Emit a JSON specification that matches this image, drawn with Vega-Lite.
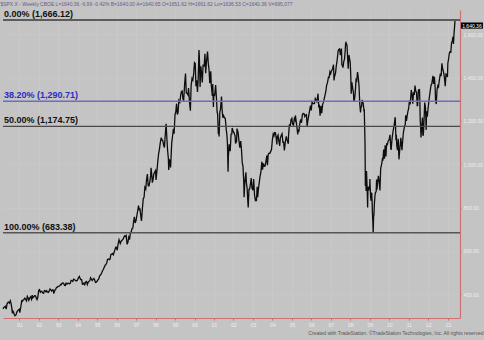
{
  "$schema": "https://vega.github.io/schema/vega-lite/v6.json",
  "autosize": "none",
  "width": 457,
  "height": 308,
  "padding": {"left": 3, "top": 10, "right": 24, "bottom": 22},
  "background": "#c4c4c4",
  "config": {
    "view": {"stroke": null, "fill": "#c4c4c4"},
    "font": "Liberation Sans"
  },
  "title": {
    "text": "$SPX.X - Weekly  CBOE   L=1640.36  -6.99  -0.42%   B=1640.00  A=1640.65   O=1651.62   H=1661.62   Lo=1636.53   C=1640.36   V=995,077",
    "anchor": "start",
    "fontSize": 5,
    "fontWeight": "normal",
    "color": "#6a5a8a",
    "offset": 3
  },
  "resolve": {"scale": {"color": "independent"}},
  "datasets": {
    "px": [
      {"d":"1990-03-01","v":332},{"d":"1990-03-15","v":338},{"d":"1990-03-30","v":339.9},{"d":"1990-04-13","v":344},{"d":"1990-04-30","v":330.8},{"d":"1990-05-15","v":354},{"d":"1990-05-31","v":361.2},{"d":"1990-06-15","v":362.9},{"d":"1990-06-29","v":358},{"d":"1990-07-16","v":368.9},{"d":"1990-07-31","v":356.2},{"d":"1990-08-15","v":332},{"d":"1990-08-24","v":311.5},{"d":"1990-08-31","v":322.6},{"d":"1990-09-14","v":316.8},{"d":"1990-09-28","v":306.1},{"d":"1990-10-12","v":300},{"d":"1990-10-31","v":304},{"d":"1990-11-15","v":317},{"d":"1990-11-30","v":322.2},{"d":"1990-12-14","v":326.8},{"d":"1990-12-31","v":330.2},
      {"d":"1991-01-11","v":315},{"d":"1991-01-31","v":343.9},{"d":"1991-02-15","v":369},{"d":"1991-02-28","v":367.1},{"d":"1991-03-15","v":373.6},{"d":"1991-03-28","v":375.2},{"d":"1991-04-15","v":381},{"d":"1991-04-30","v":375.3},{"d":"1991-05-15","v":368.6},{"d":"1991-05-31","v":389.8},{"d":"1991-06-14","v":382.3},{"d":"1991-06-28","v":371.2},{"d":"1991-07-15","v":382},{"d":"1991-07-31","v":387.8},{"d":"1991-08-19","v":376.5},{"d":"1991-08-30","v":395.4},{"d":"1991-09-13","v":383.6},{"d":"1991-09-30","v":387.9},{"d":"1991-10-15","v":392.8},{"d":"1991-10-31","v":392.5},{"d":"1991-11-15","v":382.6},{"d":"1991-11-29","v":375.2},{"d":"1991-12-13","v":384.5},{"d":"1991-12-31","v":417.1},
      {"d":"1992-01-15","v":420.8},{"d":"1992-01-31","v":408.8},{"d":"1992-02-14","v":412.5},{"d":"1992-02-28","v":412.7},{"d":"1992-03-13","v":405.8},{"d":"1992-03-31","v":403.7},{"d":"1992-04-15","v":416.3},{"d":"1992-04-30","v":414.9},{"d":"1992-05-15","v":410},{"d":"1992-05-29","v":415.4},{"d":"1992-06-12","v":409.8},{"d":"1992-06-30","v":408.1},{"d":"1992-07-15","v":415},{"d":"1992-07-31","v":424.2},{"d":"1992-08-14","v":419.9},{"d":"1992-08-31","v":414},{"d":"1992-09-15","v":419.8},{"d":"1992-09-30","v":417.8},{"d":"1992-10-09","v":402.7},{"d":"1992-10-30","v":418.7},{"d":"1992-11-13","v":422.4},{"d":"1992-11-30","v":431.4},{"d":"1992-12-15","v":432.6},{"d":"1992-12-31","v":435.7},
      {"d":"1993-01-15","v":437.2},{"d":"1993-01-29","v":438.8},{"d":"1993-02-12","v":444.6},{"d":"1993-02-26","v":443.4},{"d":"1993-03-15","v":451},{"d":"1993-03-31","v":451.7},{"d":"1993-04-15","v":448.4},{"d":"1993-04-30","v":440.2},{"d":"1993-05-14","v":439.6},{"d":"1993-05-28","v":450.2},{"d":"1993-06-15","v":446.3},{"d":"1993-06-30","v":450.5},{"d":"1993-07-15","v":449.2},{"d":"1993-07-30","v":448.1},{"d":"1993-08-13","v":450.1},{"d":"1993-08-31","v":463.6},{"d":"1993-09-15","v":461.6},{"d":"1993-09-30","v":458.9},{"d":"1993-10-15","v":469.5},{"d":"1993-10-29","v":467.8},{"d":"1993-11-15","v":463.8},{"d":"1993-11-30","v":461.8},{"d":"1993-12-15","v":461.8},{"d":"1993-12-31","v":466.5},
      {"d":"1994-01-14","v":474.9},{"d":"1994-01-31","v":481.6},{"d":"1994-02-15","v":472.5},{"d":"1994-02-28","v":467.1},{"d":"1994-03-15","v":467},{"d":"1994-03-31","v":445.8},{"d":"1994-04-15","v":446.2},{"d":"1994-04-29","v":450.9},{"d":"1994-05-13","v":444.1},{"d":"1994-05-31","v":456.5},{"d":"1994-06-15","v":458.6},{"d":"1994-06-30","v":444.3},{"d":"1994-07-15","v":454.2},{"d":"1994-07-29","v":458.3},{"d":"1994-08-15","v":461.9},{"d":"1994-08-31","v":475.5},{"d":"1994-09-15","v":468.8},{"d":"1994-09-30","v":462.7},{"d":"1994-10-14","v":469.1},{"d":"1994-10-31","v":472.4},{"d":"1994-11-15","v":465},{"d":"1994-11-30","v":453.7},{"d":"1994-12-15","v":455.3},{"d":"1994-12-30","v":459.3},
      {"d":"1995-01-13","v":466},{"d":"1995-01-31","v":470.4},{"d":"1995-02-15","v":484.5},{"d":"1995-02-28","v":487.4},{"d":"1995-03-15","v":491.9},{"d":"1995-03-31","v":500.7},{"d":"1995-04-13","v":509.2},{"d":"1995-04-28","v":514.7},{"d":"1995-05-15","v":525.6},{"d":"1995-05-31","v":533.4},{"d":"1995-06-15","v":537.1},{"d":"1995-06-30","v":544.8},{"d":"1995-07-14","v":560.3},{"d":"1995-07-31","v":562.1},{"d":"1995-08-15","v":559.4},{"d":"1995-08-31","v":561.9},{"d":"1995-09-15","v":583.4},{"d":"1995-09-29","v":584.4},{"d":"1995-10-13","v":587.5},{"d":"1995-10-31","v":581.5},{"d":"1995-11-15","v":593.2},{"d":"1995-11-30","v":605.4},{"d":"1995-12-15","v":616.3},{"d":"1995-12-29","v":615.9},
      {"d":"1996-01-12","v":602.7},{"d":"1996-01-31","v":636},{"d":"1996-02-15","v":651.3},{"d":"1996-02-29","v":640.4},{"d":"1996-03-08","v":633.5},{"d":"1996-03-29","v":645.5},{"d":"1996-04-15","v":650},{"d":"1996-04-30","v":654.2},{"d":"1996-05-15","v":662},{"d":"1996-05-31","v":669.1},{"d":"1996-06-14","v":665.9},{"d":"1996-06-28","v":670.6},{"d":"1996-07-15","v":629.8},{"d":"1996-07-31","v":639.9},{"d":"1996-08-15","v":662.3},{"d":"1996-08-30","v":652},{"d":"1996-09-13","v":680.5},{"d":"1996-09-30","v":687.3},{"d":"1996-10-15","v":702},{"d":"1996-10-31","v":705.3},{"d":"1996-11-15","v":737.6},{"d":"1996-11-29","v":757},{"d":"1996-12-13","v":728.6},{"d":"1996-12-31","v":740.7},
      {"d":"1997-01-15","v":765},{"d":"1997-01-31","v":786.2},{"d":"1997-02-14","v":808.5},{"d":"1997-02-28","v":791},{"d":"1997-03-14","v":793.2},{"d":"1997-03-31","v":757.1},{"d":"1997-04-11","v":737.7},{"d":"1997-04-30","v":801.3},{"d":"1997-05-15","v":841.9},{"d":"1997-05-30","v":848.3},{"d":"1997-06-13","v":893.3},{"d":"1997-06-30","v":885.1},{"d":"1997-07-15","v":928},{"d":"1997-07-31","v":954.3},{"d":"1997-08-15","v":900.8},{"d":"1997-08-29","v":899.5},{"d":"1997-09-15","v":919.8},{"d":"1997-09-30","v":947.3},{"d":"1997-10-07","v":983.1},{"d":"1997-10-24","v":941.6},{"d":"1997-10-31","v":914.6},{"d":"1997-11-14","v":928.4},{"d":"1997-11-28","v":955.4},{"d":"1997-12-15","v":963.4},{"d":"1997-12-31","v":970.4},
      {"d":"1998-01-09","v":927.7},{"d":"1998-01-30","v":980.3},{"d":"1998-02-13","v":1020.1},{"d":"1998-02-27","v":1049.3},{"d":"1998-03-13","v":1068.6},{"d":"1998-03-31","v":1101.8},{"d":"1998-04-17","v":1122.7},{"d":"1998-04-30","v":1111.8},{"d":"1998-05-15","v":1108.7},{"d":"1998-05-29","v":1090.8},{"d":"1998-06-15","v":1077},{"d":"1998-06-30","v":1133.8},{"d":"1998-07-17","v":1186.8},{"d":"1998-07-31","v":1120.7},{"d":"1998-08-14","v":1062.8},{"d":"1998-08-28","v":1027.1},{"d":"1998-09-04","v":973.9},{"d":"1998-09-18","v":1020},{"d":"1998-09-30","v":1017},{"d":"1998-10-09","v":984.6},{"d":"1998-10-30","v":1098.7},{"d":"1998-11-13","v":1125.7},{"d":"1998-11-30","v":1163.6},{"d":"1998-12-14","v":1141.2},{"d":"1998-12-31","v":1229.2},
      {"d":"1999-01-15","v":1243.3},{"d":"1999-01-29","v":1279.6},{"d":"1999-02-12","v":1230.1},{"d":"1999-02-26","v":1238.3},{"d":"1999-03-12","v":1294.6},{"d":"1999-03-31","v":1286.4},{"d":"1999-04-16","v":1319},{"d":"1999-04-30","v":1335.2},{"d":"1999-05-14","v":1337.8},{"d":"1999-05-28","v":1301.8},{"d":"1999-06-11","v":1293.6},{"d":"1999-06-30","v":1372.7},{"d":"1999-07-16","v":1418.8},{"d":"1999-07-30","v":1328.7},{"d":"1999-08-13","v":1327.7},{"d":"1999-08-31","v":1320.4},{"d":"1999-09-10","v":1351.7},{"d":"1999-09-30","v":1282.7},{"d":"1999-10-15","v":1247.4},{"d":"1999-10-29","v":1362.9},{"d":"1999-11-15","v":1396},{"d":"1999-11-30","v":1388.9},{"d":"1999-12-17","v":1421},{"d":"1999-12-31","v":1469.3},
      {"d":"2000-01-14","v":1465.2},{"d":"2000-01-28","v":1360.2},{"d":"2000-02-11","v":1387.1},{"d":"2000-02-25","v":1333.4},{"d":"2000-03-10","v":1395.1},{"d":"2000-03-24","v":1527.5},{"d":"2000-03-31","v":1498.6},{"d":"2000-04-14","v":1356.6},{"d":"2000-04-28","v":1452.4},{"d":"2000-05-12","v":1420.9},{"d":"2000-05-26","v":1378},{"d":"2000-06-09","v":1456.9},{"d":"2000-06-30","v":1454.6},{"d":"2000-07-14","v":1510},{"d":"2000-07-28","v":1419.9},{"d":"2000-08-11","v":1471.8},{"d":"2000-09-01","v":1520.8},{"d":"2000-09-15","v":1465.8},{"d":"2000-09-29","v":1436.5},{"d":"2000-10-13","v":1374.2},{"d":"2000-10-31","v":1429.4},{"d":"2000-11-10","v":1366},{"d":"2000-11-30","v":1315.2},{"d":"2000-12-08","v":1369.9},{"d":"2000-12-20","v":1264.7},{"d":"2000-12-29","v":1320.3},
      {"d":"2001-01-12","v":1318.3},{"d":"2001-01-31","v":1366},{"d":"2001-02-16","v":1301.5},{"d":"2001-02-28","v":1239.9},{"d":"2001-03-09","v":1233.4},{"d":"2001-03-23","v":1139.8},{"d":"2001-03-30","v":1160.3},{"d":"2001-04-06","v":1128.4},{"d":"2001-04-20","v":1243},{"d":"2001-04-30","v":1249.5},{"d":"2001-05-21","v":1312.8},{"d":"2001-05-31","v":1255.8},{"d":"2001-06-15","v":1214.4},{"d":"2001-06-29","v":1224.4},{"d":"2001-07-13","v":1215.7},{"d":"2001-07-31","v":1211.2},{"d":"2001-08-17","v":1162},{"d":"2001-08-31","v":1133.6},{"d":"2001-09-10","v":1092.5},{"d":"2001-09-21","v":965.8},{"d":"2001-09-28","v":1040.9},{"d":"2001-10-12","v":1091.7},{"d":"2001-10-31","v":1059.8},{"d":"2001-11-16","v":1138.7},{"d":"2001-11-30","v":1139.5},{"d":"2001-12-07","v":1167.1},{"d":"2001-12-31","v":1148.1},
      {"d":"2002-01-11","v":1145.6},{"d":"2002-01-31","v":1130.2},{"d":"2002-02-08","v":1096.2},{"d":"2002-02-28","v":1106.7},{"d":"2002-03-08","v":1164.3},{"d":"2002-03-28","v":1147.4},{"d":"2002-04-12","v":1111},{"d":"2002-04-30","v":1076.9},{"d":"2002-05-17","v":1106.6},{"d":"2002-05-31","v":1067.1},{"d":"2002-06-14","v":1007.3},{"d":"2002-06-28","v":989.8},{"d":"2002-07-12","v":921.4},{"d":"2002-07-19","v":847.8},{"d":"2002-07-31","v":911.6},{"d":"2002-08-22","v":962.7},{"d":"2002-08-30","v":916.1},{"d":"2002-09-13","v":889.8},{"d":"2002-09-27","v":827.4},{"d":"2002-10-04","v":800.6},{"d":"2002-10-18","v":884.4},{"d":"2002-10-31","v":885.8},{"d":"2002-11-15","v":909.8},{"d":"2002-11-29","v":936.3},{"d":"2002-12-13","v":889.5},{"d":"2002-12-31","v":879.8},
      {"d":"2003-01-14","v":931.7},{"d":"2003-01-31","v":855.7},{"d":"2003-02-14","v":834.9},{"d":"2003-02-28","v":841.2},{"d":"2003-03-07","v":828.9},{"d":"2003-03-21","v":895.8},{"d":"2003-03-31","v":848.2},{"d":"2003-04-17","v":893.6},{"d":"2003-04-30","v":916.9},{"d":"2003-05-16","v":946.7},{"d":"2003-05-30","v":963.6},{"d":"2003-06-17","v":1011.7},{"d":"2003-06-30","v":974.5},{"d":"2003-07-14","v":1003.9},{"d":"2003-07-31","v":990.3},{"d":"2003-08-15","v":990.7},{"d":"2003-08-29","v":1008},{"d":"2003-09-18","v":1039.6},{"d":"2003-09-30","v":996},{"d":"2003-10-15","v":1046},{"d":"2003-10-31","v":1050.7},{"d":"2003-11-14","v":1050.4},{"d":"2003-11-28","v":1058.2},{"d":"2003-12-15","v":1068},{"d":"2003-12-31","v":1111.9},
      {"d":"2004-01-16","v":1139.8},{"d":"2004-01-30","v":1131.1},{"d":"2004-02-13","v":1145.8},{"d":"2004-02-27","v":1144.9},{"d":"2004-03-12","v":1120.6},{"d":"2004-03-24","v":1091.3},{"d":"2004-03-31","v":1126.2},{"d":"2004-04-16","v":1134.6},{"d":"2004-04-30","v":1107.3},{"d":"2004-05-17","v":1084.1},{"d":"2004-05-28","v":1120.7},{"d":"2004-06-18","v":1135},{"d":"2004-06-30","v":1140.8},{"d":"2004-07-16","v":1101.4},{"d":"2004-07-30","v":1101.7},{"d":"2004-08-12","v":1063.2},{"d":"2004-08-31","v":1104.2},{"d":"2004-09-17","v":1128.6},{"d":"2004-09-30","v":1114.6},{"d":"2004-10-25","v":1094.8},{"d":"2004-10-29","v":1130.2},{"d":"2004-11-15","v":1183.8},{"d":"2004-11-30","v":1173.8},{"d":"2004-12-15","v":1205.7},{"d":"2004-12-31","v":1211.9},
      {"d":"2005-01-14","v":1184.5},{"d":"2005-01-31","v":1181.3},{"d":"2005-02-15","v":1210.1},{"d":"2005-02-28","v":1203.6},{"d":"2005-03-07","v":1225.3},{"d":"2005-03-31","v":1180.6},{"d":"2005-04-20","v":1137.5},{"d":"2005-04-29","v":1156.9},{"d":"2005-05-13","v":1154},{"d":"2005-05-31","v":1191.5},{"d":"2005-06-15","v":1206.6},{"d":"2005-06-30","v":1191.3},{"d":"2005-07-15","v":1227.9},{"d":"2005-07-29","v":1234.2},{"d":"2005-08-15","v":1233.9},{"d":"2005-08-31","v":1220.3},{"d":"2005-09-15","v":1227.7},{"d":"2005-09-30","v":1228.8},{"d":"2005-10-13","v":1176.8},{"d":"2005-10-31","v":1207},{"d":"2005-11-15","v":1229},{"d":"2005-11-30","v":1249.5},{"d":"2005-12-15","v":1270.9},{"d":"2005-12-30","v":1248.3},
      {"d":"2006-01-13","v":1287.6},{"d":"2006-01-31","v":1280.1},{"d":"2006-02-15","v":1280},{"d":"2006-02-28","v":1280.7},{"d":"2006-03-15","v":1303},{"d":"2006-03-31","v":1294.9},{"d":"2006-04-14","v":1289},{"d":"2006-04-28","v":1310.6},{"d":"2006-05-05","v":1325.8},{"d":"2006-05-19","v":1267},{"d":"2006-05-31","v":1270.1},{"d":"2006-06-13","v":1223.7},{"d":"2006-06-30","v":1270.2},{"d":"2006-07-14","v":1236.2},{"d":"2006-07-31","v":1276.7},{"d":"2006-08-15","v":1285.6},{"d":"2006-08-31","v":1303.8},{"d":"2006-09-15","v":1319.9},{"d":"2006-09-29","v":1335.9},{"d":"2006-10-13","v":1362.8},{"d":"2006-10-31","v":1377.9},{"d":"2006-11-17","v":1401.2},{"d":"2006-11-30","v":1400.6},{"d":"2006-12-15","v":1427.1},{"d":"2006-12-29","v":1418.3},
      {"d":"2007-01-12","v":1430.7},{"d":"2007-01-31","v":1438.2},{"d":"2007-02-20","v":1459.7},{"d":"2007-03-02","v":1387.2},{"d":"2007-03-09","v":1402.8},{"d":"2007-03-30","v":1420.9},{"d":"2007-04-13","v":1452.9},{"d":"2007-04-30","v":1482.4},{"d":"2007-05-18","v":1522.8},{"d":"2007-05-31","v":1530.6},{"d":"2007-06-15","v":1532.9},{"d":"2007-06-29","v":1503.4},{"d":"2007-07-20","v":1534.1},{"d":"2007-07-27","v":1458.95},{"d":"2007-08-10","v":1453.6},{"d":"2007-08-17","v":1445.9},{"d":"2007-08-31","v":1474},{"d":"2007-09-14","v":1484.3},{"d":"2007-09-28","v":1526.8},{"d":"2007-10-05","v":1557.6},{"d":"2007-10-12","v":1561.8},{"d":"2007-10-31","v":1549.4},{"d":"2007-11-23","v":1440.7},{"d":"2007-11-30","v":1481.1},{"d":"2007-12-07","v":1504.7},{"d":"2007-12-31","v":1468.4},
      {"d":"2008-01-11","v":1401},{"d":"2008-01-18","v":1325.2},{"d":"2008-01-31","v":1378.6},{"d":"2008-02-15","v":1350},{"d":"2008-02-29","v":1330.6},{"d":"2008-03-07","v":1293.4},{"d":"2008-03-14","v":1288.1},{"d":"2008-03-31","v":1322.7},{"d":"2008-04-18","v":1390.3},{"d":"2008-04-30","v":1385.6},{"d":"2008-05-16","v":1425.4},{"d":"2008-05-30","v":1400.4},{"d":"2008-06-13","v":1360},{"d":"2008-06-27","v":1278.4},{"d":"2008-07-11","v":1239.5},{"d":"2008-07-18","v":1260.7},{"d":"2008-07-31","v":1267.4},{"d":"2008-08-08","v":1296.3},{"d":"2008-08-29","v":1282.8},{"d":"2008-09-12","v":1251.7},{"d":"2008-09-19","v":1255.1},{"d":"2008-10-03","v":1099.2},{"d":"2008-10-10","v":899.2},{"d":"2008-10-17","v":940.6},{"d":"2008-10-24","v":876.8},{"d":"2008-10-31","v":968.8},{"d":"2008-11-14","v":873.3},{"d":"2008-11-21","v":800},{"d":"2008-11-28","v":896.2},{"d":"2008-12-12","v":879.7},{"d":"2008-12-31","v":903.3},
      {"d":"2009-01-02","v":931.8},{"d":"2009-01-16","v":850.1},{"d":"2009-01-23","v":832},{"d":"2009-02-06","v":868.6},{"d":"2009-02-13","v":826.8},{"d":"2009-02-20","v":770},{"d":"2009-02-27","v":735.1},{"d":"2009-03-06","v":683.38},{"d":"2009-03-13","v":756.6},{"d":"2009-03-20","v":768.5},{"d":"2009-03-27","v":815.9},{"d":"2009-04-09","v":856.6},{"d":"2009-04-17","v":869.6},{"d":"2009-04-30","v":872.8},{"d":"2009-05-08","v":929.2},{"d":"2009-05-15","v":882.9},{"d":"2009-05-29","v":919.1},{"d":"2009-06-12","v":946.2},{"d":"2009-06-26","v":918.9},{"d":"2009-07-10","v":879.1},{"d":"2009-07-24","v":979.3},{"d":"2009-07-31","v":987.5},{"d":"2009-08-14","v":1004.1},{"d":"2009-08-28","v":1028.9},{"d":"2009-09-04","v":1016.4},{"d":"2009-09-18","v":1068.3},{"d":"2009-10-02","v":1025.2},{"d":"2009-10-16","v":1087.7},{"d":"2009-10-30","v":1036.2},{"d":"2009-11-13","v":1093.5},{"d":"2009-11-27","v":1091.5},{"d":"2009-12-11","v":1106.4},{"d":"2009-12-31","v":1115.1},
      {"d":"2010-01-15","v":1136},{"d":"2010-01-29","v":1073.9},{"d":"2010-02-05","v":1066.2},{"d":"2010-02-19","v":1109.2},{"d":"2010-03-05","v":1138.7},{"d":"2010-03-19","v":1159.9},{"d":"2010-04-01","v":1178.1},{"d":"2010-04-23","v":1217.3},{"d":"2010-05-07","v":1110.9},{"d":"2010-05-14","v":1135.7},{"d":"2010-05-21","v":1087.7},{"d":"2010-06-04","v":1064.9},{"d":"2010-06-18","v":1117.5},{"d":"2010-07-02","v":1022.6},{"d":"2010-07-16","v":1064.9},{"d":"2010-07-30","v":1101.6},{"d":"2010-08-06","v":1121.6},{"d":"2010-08-27","v":1064.6},{"d":"2010-09-10","v":1109.6},{"d":"2010-09-24","v":1148.7},{"d":"2010-10-15","v":1176.2},{"d":"2010-10-29","v":1183.3},{"d":"2010-11-05","v":1225.9},{"d":"2010-11-19","v":1199.7},{"d":"2010-12-03","v":1224.7},{"d":"2010-12-17","v":1243.9},{"d":"2010-12-31","v":1257.6},
      {"d":"2011-01-14","v":1293.2},{"d":"2011-01-28","v":1276.3},{"d":"2011-02-18","v":1343},{"d":"2011-03-04","v":1321.2},{"d":"2011-03-18","v":1279.2},{"d":"2011-04-01","v":1332.4},{"d":"2011-04-15","v":1319.7},{"d":"2011-04-29","v":1363.6},{"d":"2011-05-13","v":1337.8},{"d":"2011-05-27","v":1331.1},{"d":"2011-06-10","v":1271},{"d":"2011-06-17","v":1271.5},{"d":"2011-07-01","v":1339.7},{"d":"2011-07-08","v":1344},{"d":"2011-07-22","v":1345},{"d":"2011-07-29","v":1292.3},{"d":"2011-08-05","v":1199.4},{"d":"2011-08-12","v":1178.8},{"d":"2011-08-19","v":1123.5},{"d":"2011-09-02","v":1174},{"d":"2011-09-16","v":1216},{"d":"2011-09-23","v":1136.4},{"d":"2011-09-30","v":1131.4},{"d":"2011-10-07","v":1155.5},{"d":"2011-10-21","v":1238.3},{"d":"2011-10-28","v":1285.1},{"d":"2011-11-11","v":1263.9},{"d":"2011-11-25","v":1158.7},{"d":"2011-12-02","v":1244.3},{"d":"2011-12-16","v":1219.7},{"d":"2011-12-30","v":1257.6},
      {"d":"2012-01-13","v":1289.1},{"d":"2012-01-27","v":1316.3},{"d":"2012-02-10","v":1342.6},{"d":"2012-02-24","v":1365.7},{"d":"2012-03-09","v":1370.9},{"d":"2012-03-30","v":1408.5},{"d":"2012-04-13","v":1370.3},{"d":"2012-04-27","v":1403.4},{"d":"2012-05-11","v":1353.4},{"d":"2012-05-18","v":1295.2},{"d":"2012-06-01","v":1278},{"d":"2012-06-15","v":1342.8},{"d":"2012-06-29","v":1362.2},{"d":"2012-07-13","v":1356.8},{"d":"2012-07-27","v":1386},{"d":"2012-08-17","v":1418.2},{"d":"2012-08-31","v":1406.6},{"d":"2012-09-14","v":1465.8},{"d":"2012-09-28","v":1440.7},{"d":"2012-10-12","v":1428.6},{"d":"2012-10-26","v":1411.9},{"d":"2012-11-09","v":1379.9},{"d":"2012-11-16","v":1359.9},{"d":"2012-11-30","v":1416.2},{"d":"2012-12-14","v":1413.6},{"d":"2012-12-28","v":1402.4},
      {"d":"2013-01-04","v":1466.5},{"d":"2013-01-18","v":1486},{"d":"2013-02-01","v":1513.2},{"d":"2013-02-15","v":1519.8},{"d":"2013-03-01","v":1518.2},{"d":"2013-03-15","v":1560.7},{"d":"2013-03-28","v":1569.2},{"d":"2013-04-12","v":1588.9},{"d":"2013-04-19","v":1555.3},{"d":"2013-05-03","v":1614.4},{"d":"2013-05-10","v":1633.7},{"d":"2013-05-17","v":1662}
    ],
    "levels": [
      {"level":"0%","lv":1666.12,"label":"0.00% (1,666.12)"},
      {"level":"38.2%","lv":1290.71,"label":"38.20% (1,290.71)"},
      {"level":"50%","lv":1174.75,"label":"50.00% (1,174.75)"},
      {"level":"100%","lv":683.38,"label":"100.00% (683.38)"}
    ],
    "last": [{"d":"2013-05-17","v":1640.36,"label":"1,640.36"}]
  },
  "layer": [
    {
      "data": {"name": "px"},
      "mark": {"type": "line", "color": "#0d0d0d", "strokeWidth": 1.3},
      "encoding": {
        "x": {
          "field": "d", "type": "temporal",
          "scale": {"type": "utc", "domain": [{"year": 1990, "month": 3, "date": 1, "utc": true}, {"year": 2013, "month": 8, "date": 20, "utc": true}]},
          "axis": {
            "title": "Created with TradeStation. ©TradeStation Technologies, Inc. All rights reserved",
            "titleFontSize": 5, "titleFontWeight": "normal", "titleColor": "#555555",
            "titleAnchor": "end", "titleAlign": "right", "titleX": 480, "titlePadding": 3,
            "format": "%y", "tickCount": {"interval": "year", "step": 1},
            "labelFontSize": 5, "labelColor": "#efefef", "labelPadding": 2, "labelOverlap": false,
            "domainColor": "#d07070", "domainWidth": 1.2,
            "tickColor": "#d07070", "tickSize": 2,
            "grid": true, "gridColor": "#cdcdcd", "gridWidth": 0.6
          }
        },
        "y": {
          "field": "v", "type": "quantitative",
          "scale": {"domain": [289.7, 1712.3], "nice": false, "zero": false},
          "axis": {
            "orient": "right", "title": null,
            "values": [400, 600, 800, 1000, 1200, 1400, 1600],
            "format": ",.2f",
            "labelFontSize": 5, "labelColor": "#efefef", "labelPadding": 2,
            "domainColor": "#d07070", "domainWidth": 1.2,
            "tickColor": "#d07070", "tickSize": 1,
            "grid": true, "gridColor": "#cbcbcb", "gridWidth": 0.6
          }
        }
      }
    },
    {
      "data": {"name": "levels"},
      "mark": {"type": "rule"},
      "encoding": {
        "y": {"field": "lv", "type": "quantitative"},
        "color": {"field": "level", "type": "nominal", "legend": null,
          "scale": {"domain": ["0%", "38.2%", "50%", "100%"], "range": ["#3a3a3a", "#6c6cc4", "#4a4a4a", "#555555"]}},
        "strokeWidth": {"field": "level", "type": "nominal", "legend": null,
          "scale": {"domain": ["0%", "38.2%", "50%", "100%"], "range": [1.4, 1.4, 1.1, 2]}}
      }
    },
    {
      "data": {"name": "levels"},
      "mark": {"type": "text", "align": "left", "baseline": "bottom", "dx": 1, "dy": -1, "fontSize": 9, "fontWeight": "bold", "font": "Liberation Sans"},
      "encoding": {
        "x": {"datum": {"year": 1990, "month": 3, "date": 1, "utc": true}, "type": "temporal"},
        "y": {"field": "lv", "type": "quantitative"},
        "text": {"field": "label"},
        "color": {"field": "label", "type": "nominal", "legend": null,
          "scale": {"domain": ["0.00% (1,666.12)", "38.20% (1,290.71)", "50.00% (1,174.75)", "100.00% (683.38)"], "range": ["#101010", "#2a2ac4", "#101010", "#101010"]}}
      }
    },
    {
      "data": {"name": "last"},
      "mark": {"type": "point", "shape": "M-1,-0.28H1V0.28H-1Z", "filled": true, "color": "#000000", "opacity": 1, "size": 484, "xOffset": 17},
      "encoding": {
        "x": {"field": "d", "type": "temporal"},
        "y": {"field": "v", "type": "quantitative"}
      }
    },
    {
      "data": {"name": "last"},
      "mark": {"type": "text", "align": "center", "baseline": "middle", "dx": 17, "fontSize": 5, "color": "#ffffff"},
      "encoding": {
        "x": {"field": "d", "type": "temporal"},
        "y": {"field": "v", "type": "quantitative"},
        "text": {"field": "label"}
      }
    }
  ]
}
